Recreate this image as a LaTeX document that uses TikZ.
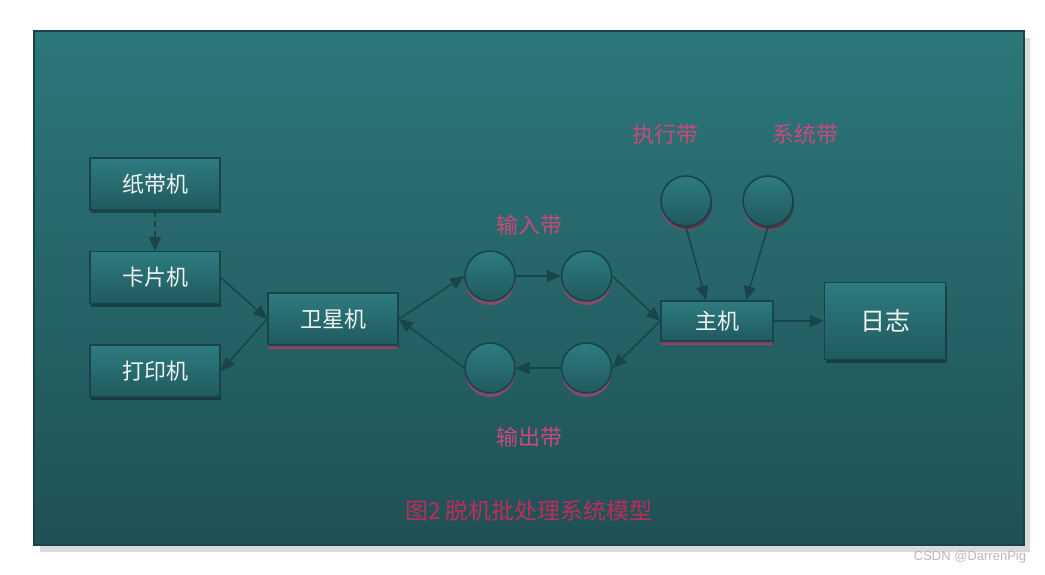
\documentclass[tikz,border=0pt]{standalone}
\usepackage{xcolor}
\usepackage{fontspec}
\newfontfamily\cjk{Noto Sans CJK SC}
\setsansfont{Liberation Sans}
\usepackage{tikz}
\usetikzlibrary{positioning,arrows.meta,shadows}

\definecolor{framebor}{HTML}{19454A}
\definecolor{bgtop}{HTML}{2C777A}
\definecolor{bgbot}{HTML}{1F5155}
\definecolor{boxtop}{HTML}{2E7B7F}
\definecolor{boxbot}{HTML}{1F5A5E}
\definecolor{linecol}{HTML}{18454A}
\definecolor{labpink}{HTML}{C9497A}
\definecolor{titlered}{HTML}{C22A5A}
\definecolor{glow}{HTML}{B8406C}

\begin{document}
\begin{tikzpicture}[
    x=1pt, y=-1pt,
    node distance=40pt,
    box/.style={rectangle, draw=linecol, line width=1.6pt, top color=boxtop, bottom color=boxbot,
                minimum width=130pt, minimum height=52pt, align=center, text=white!95!black,
                font=\cjk\fontsize{22}{24}\selectfont,
                drop shadow={shadow xshift=1pt, shadow yshift=-3pt, fill=black, opacity=.35}},
    hostbox/.style={box, drop shadow={shadow xshift=0pt, shadow yshift=-4pt, fill=glow, opacity=.7}},
    tape/.style={circle, draw=linecol, line width=1.6pt, top color=boxtop, bottom color=boxbot,
                 minimum size=50pt, inner sep=0pt,
                 drop shadow={shadow xshift=0pt, shadow yshift=-4pt, fill=glow, opacity=.7}},
    systape/.style={tape, drop shadow={shadow xshift=1pt, shadow yshift=-3pt, fill=black, opacity=.35}},
    lab/.style={text=labpink, font=\cjk\fontsize{22}{24}\selectfont},
    arr/.style={-{Triangle[length=14pt,width=12pt]}, line width=1.5pt, draw=linecol, color=linecol}
]
\useasboundingbox (0,0) rectangle (1045,574);

% frame
\fill[black!25, opacity=.6] (40,38) rectangle (1030,552);
\shade[top color=bgtop, bottom color=bgbot, draw=framebor, line width=2pt]
    (34,31) rectangle (1024,545);

% input devices
\node[box] (paper) at (155,184) {纸带机};
\node[box, below=of paper] (card) {卡片机};
\node[box, below=of card] (printer) {打印机};

% satellite
\node[hostbox] (sat) at (333,319) {卫星机};

% tapes
\node[tape] (in1) at (490,276) {};
\node[tape, right=45pt of in1] (in2) {};
\node[tape] (out1) at (490,368) {};
\node[tape, right=45pt of out1] (out2) {};
\node[lab] (inlab) at (529,225) {输入带};
\node[lab] (outlab) at (529,437) {输出带};

% host
\node[hostbox, minimum width=112pt, minimum height=40pt] (host) at (717,321) {主机};
\node[box, right=50pt of host, minimum width=121pt, minimum height=77pt,
      font=\cjk\fontsize{25}{27}\selectfont] (log) {日志};
\node[systape] (exec) at (686,201) {};
\node[systape] (sys) at (768,201) {};
\node[lab] (execlab) at (665,134) {执行带};
\node[lab] (syslab) at (805,134) {系统带};

% caption
\node[text=titlered, font=\cjk\fontsize{23}{25}\selectfont] (title) at (529,511) {图2 脱机批处理系统模型};
\node[text=black!28, font=\sffamily\fontsize{13}{15}\selectfont] (mark) at (970,557) {CSDN @DarrenPig};

% arrows
\draw[arr, dash pattern=on 6pt off 4pt] (paper.south) -- (card.north);
\draw[arr] (card.east) -- (sat.west);
\draw[arr] (sat.west) -- (printer.east);
\draw[arr] (sat.east) -- (in1.west);
\draw[arr] (in1.east) -- (in2.west);
\draw[arr] (in2.east) -- (host.west);
\draw[arr] (host.west) -- (out2.east);
\draw[arr] (out2.west) -- (out1.east);
\draw[arr] (out1.west) -- (sat.east);
\draw[arr] (exec.south) -- ([xshift=-11pt]host.north);
\draw[arr] (sys.south) -- ([xshift=29pt]host.north);
\draw[arr] (host.east) -- (log.west);

\end{tikzpicture}
\end{document}
